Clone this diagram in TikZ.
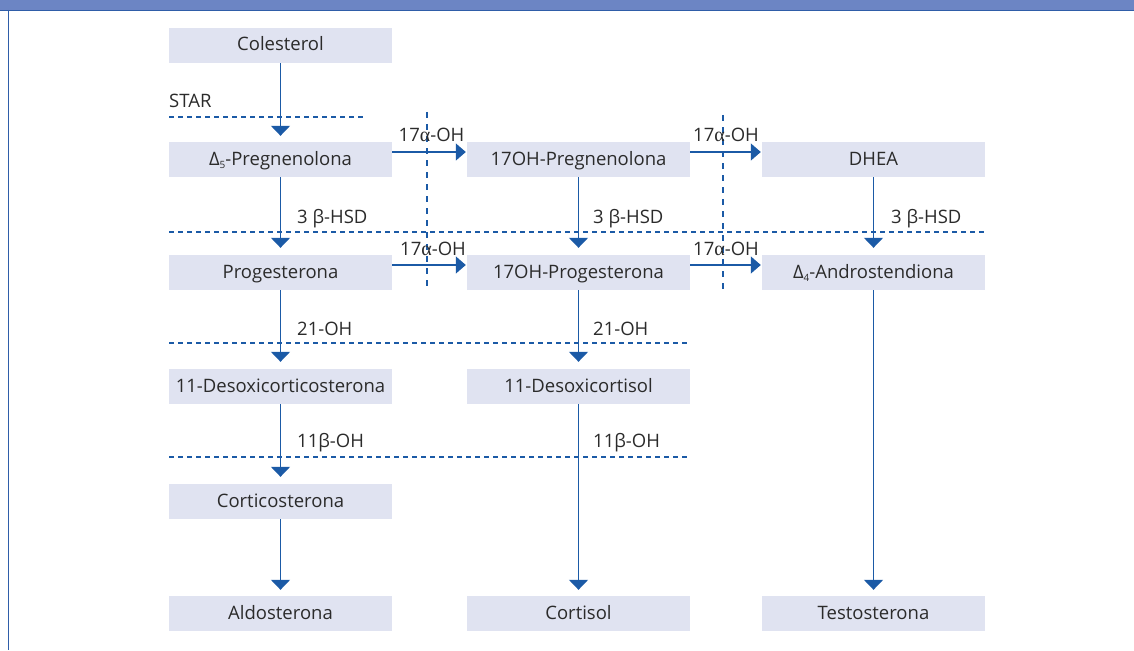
\documentclass[tikz,border=0pt]{standalone}
\usepackage{fontspec}
\setmainfont{Open Sans}
\newfontfamily\grk{Liberation Serif}
\usetikzlibrary{arrows.meta}
\definecolor{hdr}{HTML}{6C85C4}
\definecolor{hdrline}{HTML}{2F5DA8}
\definecolor{boxfill}{HTML}{E0E3F1}
\definecolor{arrblue}{HTML}{1B5AA6}
\definecolor{txt}{HTML}{2B2B2B}
\newcommand{\alf}{{\grk\fontsize{20}{20}\selectfont α}}
\newcommand{\sbs}[1]{\raisebox{-3.5pt}{\fontsize{10}{10}\selectfont #1}}
\begin{document}
\begin{tikzpicture}[x=1pt,y=-1pt,
  mol/.style={fill=boxfill, minimum width=223pt, minimum height=35pt, inner sep=0pt,
    text height=12pt, text depth=1pt,
    text=txt, font=\fontsize{18.5}{20}\selectfont},
  lab/.style={anchor=base west, inner sep=0pt, text=txt, font=\fontsize{18.5}{20}\selectfont},
  labc/.style={anchor=base, inner sep=0pt, text=txt, font=\fontsize{18.5}{20}\selectfont},
  dashln/.style={draw=arrblue, line width=1.2pt, dash pattern=on 5pt off 4pt},
  vdashln/.style={draw=arrblue, line width=1.2pt, dash pattern=on 6pt off 6pt},
  varr/.style={draw=arrblue, line width=1.4pt, -{Triangle[width=19pt,length=10pt]}, shorten >=6pt},
  harr/.style={draw=arrblue, line width=1.4pt, -{Triangle[width=17pt,length=10pt]}, shorten >=1pt}]
\useasboundingbox (0,0) rectangle (1134,650);
% header and frame
\fill[hdr] (0,0) rectangle (1134,10);
\draw[hdrline, line width=1.2pt] (0,10.5) -- (1134,10.5);
\draw[hdrline, line width=1.2pt] (8.5,10) -- (8.5,650);
% nodes
\node[mol] (col)  at (280.5,45.5)  {Colesterol};
\node[mol] (preg) at (280.5,159.5) {Δ\sbs{5}-Pregnenolona};
\node[mol] (ohpreg) at (578.5,159.5) {17OH-Pregnenolona};
\node[mol] (dhea) at (873.5,159.5) {DHEA};
\node[mol] (prog) at (280.5,272.5) {Progesterona};
\node[mol] (ohprog) at (578.5,272.5) {17OH-Progesterona};
\node[mol] (andro) at (873.5,272.5) {Δ\sbs{4}-Androstendiona};
\node[mol] (doc) at (280.5,386.5) {11-Desoxicorticosterona};
\node[mol] (dcort) at (578.5,386.5) {11-Desoxicortisol};
\node[mol] (corticos) at (280.5,501.5) {Corticosterona};
\node[mol] (aldo) at (280.5,613.5) {Aldosterona};
\node[mol] (cortisol) at (578.5,613.5) {Cortisol};
\node[mol] (testo) at (873.5,613.5) {Testosterona};
% dashed enzyme lines
\draw[dashln] (169,117) -- (366,117);
\draw[dashln] (169,232) -- (985,232);
\draw[dashln] (169,343) -- (690,343);
\draw[dashln] (169,457) -- (690,457);
\draw[vdashln] (427,112) -- (427,290);
\draw[vdashln] (723,115) -- (723,290);
% labels
\node[lab] (lstar) at (169,108) {STAR};
\node[lab] (lh1) at (297,223) {3 β-HSD};
\node[lab] (lh2) at (593,223) {3 β-HSD};
\node[lab] (lh3) at (891,223) {3 β-HSD};
\node[lab] (l21a) at (297,335) {21-OH};
\node[lab] (l21b) at (593,335) {21-OH};
\node[lab] (l11a) at (297,447) {11β-OH};
\node[lab] (l11b) at (593,447) {11β-OH};
\node[labc] (la1) at (431.5,141) {17\alf-OH};
\node[labc] (la2) at (726,141) {17\alf-OH};
\node[labc] (la3) at (433,255) {17\alf-OH};
\node[labc] (la4) at (726,255) {17\alf-OH};
% vertical arrows
\draw[varr] (col.south) -- (preg.north);
\draw[varr,shorten >=7pt] (preg.south) -- (prog.north);
\draw[varr,shorten >=7pt] (ohpreg.south) -- (ohprog.north);
\draw[varr,shorten >=7pt] (dhea.south) -- (andro.north);
\draw[varr,shorten >=7pt] (prog.south) -- (doc.north);
\draw[varr,shorten >=7pt] (ohprog.south) -- (dcort.north);
\draw[varr,shorten >=7pt] (doc.south) -- (corticos.north);
\draw[varr] (corticos.south) -- (aldo.north);
\draw[varr] (dcort.south) -- (cortisol.north);
\draw[varr] (andro.south) -- (testo.north);
% horizontal arrows
\draw[harr] ([yshift=7.5pt]preg.east) -- ([yshift=7.5pt]ohpreg.west);
\draw[harr] ([yshift=7.5pt]ohpreg.east) -- ([yshift=7.5pt]dhea.west);
\draw[harr] ([yshift=7.5pt]prog.east) -- ([yshift=7.5pt]ohprog.west);
\draw[harr] ([yshift=7.5pt]ohprog.east) -- ([yshift=7.5pt]andro.west);
\end{tikzpicture}
\end{document}
